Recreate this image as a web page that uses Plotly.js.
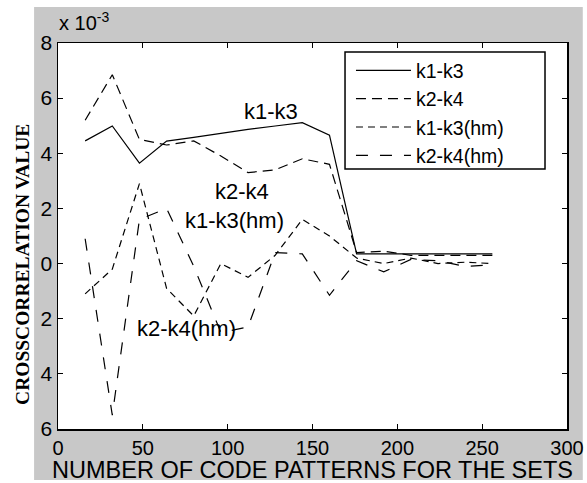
<!DOCTYPE html>
<html><head><meta charset="utf-8">
<script src="https://cdn.plot.ly/plotly-3.0.1.min.js"></script>
<style>html,body{margin:0;padding:0;background:#fff;} #chart{width:587px;height:483px;}</style>
</head><body><div id="chart"></div>
<script>
// values in units of 1e-3
const xPatterns = [16,32,48,64,80,96,112,128,144,160,176,192,208,224,240,256];
const k1k3   = [4.45,4.99,3.64,4.44,4.58,4.73,4.87,4.99,5.11,4.66,0.35,0.35,0.35,0.35,0.35,0.35];
const k2k4   = [5.2,6.85,4.5,4.3,4.45,3.9,3.3,3.4,3.8,3.6,0.4,0.45,0.3,0.3,0.3,0.3];
const k1k3hm = [-1.1,-0.2,2.9,-0.9,-1.9,0.0,-0.5,0.3,1.6,1.0,0.2,0.0,0.2,0.0,0.05,0.0];
const k2k4hm = [0.9,-5.5,1.6,2.0,-0.1,-2.5,-2.3,0.4,0.35,-1.15,0.1,-0.3,0.15,0.1,-0.1,-0.05];
const seriesNames = ['k1-k3','k2-k4','k1-k3(hm)','k2-k4(hm)'];
const yTickVals = [-6,-4,-2,0,2,4,6,8];
const yTickText = ['6','4','2','0','2','4','6','8'];
const xTickVals = [0,50,100,150,200,250,300];
const xTickText = ['0','50','100','150','200','250','300'];
const labelX = [108.4, 91.3, 73.7, 45.4];
const labelY = [5.53, 2.63, 1.58, -2.34];

const FONT = 'Liberation Sans, Arial, sans-serif';
const dashes = ['solid','10px,6px','7px,5px','12px,12px'];
const ys = [k1k3,k2k4,k1k3hm,k2k4hm];
const traces = ys.map((y,i)=>({
  x: xPatterns, y: y, type:'scatter', mode:'lines', name: seriesNames[i],
  line:{color:'#000', width:1.2, dash: dashes[i]}
}));

const annotations = seriesNames.map((t,i)=>({
  x: labelX[i], y: labelY[i], xref:'x', yref:'y', text:t, showarrow:false,
  xanchor:'left', yanchor:'middle', font:{family:FONT, size:22, color:'#000'}
}));
annotations.push({
  x:-0.002, y:1.055, xref:'paper', yref:'paper', text:'x 10<sup>-3</sup>', showarrow:false,
  xanchor:'left', yanchor:'middle', font:{family:FONT, size:20, color:'#000'}
});
annotations.push({
  x:-0.07, y:0.426, xref:'paper', yref:'paper', text:'<b>CROSSCORRELATION VALUE</b>', showarrow:false,
  textangle:-90, xanchor:'center', yanchor:'middle', font:{family:'Liberation Serif, Times New Roman, serif', size:19.5, color:'#000'}
});

const layout = {
  width:587, height:483,
  margin:{l:58, r:20, t:43, b:54},
  paper_bgcolor:'#fff', plot_bgcolor:'#fff',
  showlegend:true,
  legend:{x:0.5756, y:0.979, xanchor:'left', yanchor:'top', bgcolor:'rgba(0,0,0,0)', borderwidth:0,
          font:{family:FONT, size:19.5, color:'#000'}, tracegroupgap:0, itemwidth:55},
  xaxis:{range:[0,300], tickvals:xTickVals, ticktext:xTickText, ticks:'inside', ticklen:5, tickcolor:'#000',
         showline:true, linecolor:'#000', linewidth:1.5, mirror:'ticks', showgrid:false, zeroline:false,
         tickfont:{family:FONT, size:20, color:'#000'},
         title:{text:'NUMBER OF CODE PATTERNS FOR THE SETS', font:{family:FONT, size:23.5, color:'#000'}, standoff:4}},
  yaxis:{range:[-6,8], tickvals:yTickVals, ticktext:yTickText, ticks:'inside', ticklen:5, tickcolor:'#000',
         showline:true, linecolor:'#000', linewidth:1.5, mirror:'ticks', showgrid:false, zeroline:false,
         tickfont:{family:FONT, size:21, color:'#000'}},
  shapes:[
    {type:'rect', xref:'paper', yref:'paper', x0:-0.047, x1:1.031, y0:-0.132, y1:1.093, fillcolor:'#c8c8c8', line:{width:0}, layer:'below'},
    {type:'rect', xref:'paper', yref:'paper', x0:0, x1:1, y0:0, y1:1, fillcolor:'#fff', line:{width:0}, layer:'below'},
    {type:'rect', xref:'paper', yref:'paper', x0:0.5639, x1:0.9568, y0:0.6736, y1:0.9767, fillcolor:'#fff', line:{color:'#000', width:1.5}, layer:'above'}
  ],
  annotations: annotations
};
Plotly.newPlot('chart', traces, layout, {staticPlot:true, displayModeBar:false});
</script></body></html>
